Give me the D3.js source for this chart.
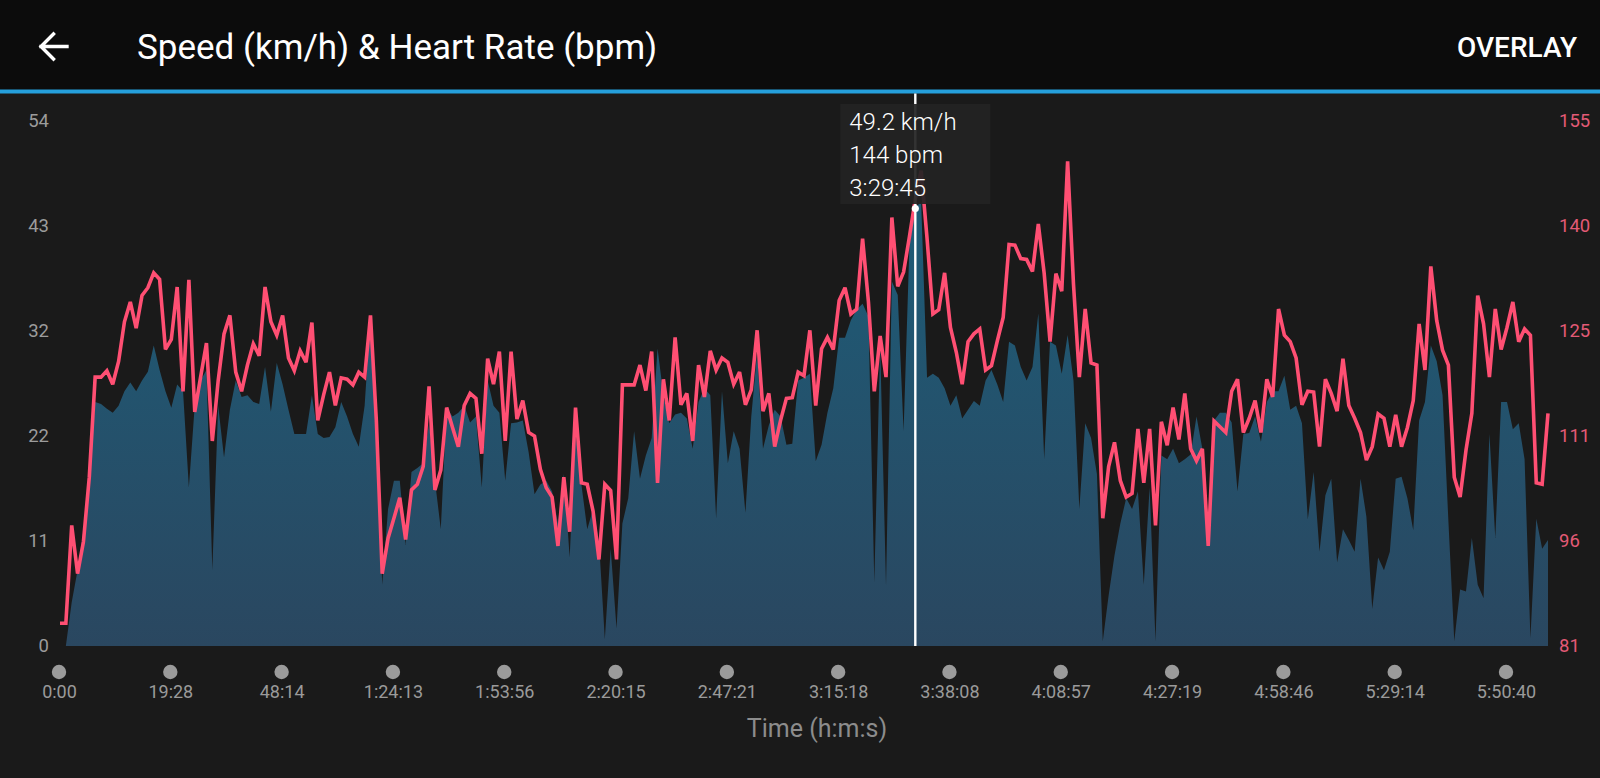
<!DOCTYPE html>
<html>
<head>
<meta charset="utf-8">
<script src="https://cdn.jsdelivr.net/npm/d3@7"></script>
<style>
  html, body { margin: 0; padding: 0; background: #1a1a1a; }
  svg { display: block; }
  text { font-family: Roboto, "Noto Sans", sans-serif; }
</style>
</head>
<body>
<svg id="chart" width="1600" height="778"></svg>
<script>
// ---------------- data ----------------
const heartRate = [
  84.2, 84.2, 98.0, 91.2, 95.7, 104.8, 118.9, 118.9, 119.8, 117.9, 121.1, 126.7, 129.5, 125.8, 130.4, 131.5, 133.6, 132.7, 122.8, 124.2,
  131.6, 116.9, 132.6, 114.0, 118.9, 123.7, 109.9, 118.4, 125.0, 127.6, 119.6, 116.9, 120.6, 123.6, 121.9, 131.6, 126.7, 124.8, 127.6, 121.6,
  119.8, 122.6, 121.0, 126.6, 112.8, 116.4, 119.6, 114.9, 118.8, 118.6, 117.8, 119.6, 118.9, 127.6, 112.8, 91.2, 96.2, 99.0, 101.9, 96.0,
  103.0, 103.8, 106.3, 117.6, 103.0,
  105.8, 114.6, 111.8, 109.1, 114.9, 116.6, 115.9, 108.1, 121.5, 117.9, 122.5, 109.9, 122.5, 113.0, 115.6, 111.1, 110.6, 105.9, 103.3, 102.0,
  95.1, 104.8, 97.1, 114.6, 104.0, 103.8, 100.0, 93.2, 103.8, 102.9, 93.2, 117.8, 117.8, 117.8, 120.6, 117.0, 122.5, 104.0, 118.6, 112.8,
  124.5, 115.0, 116.6, 109.9, 120.6, 116.1, 122.6, 119.9, 121.6, 121.0, 117.9, 119.6, 115.0, 117.1, 125.5, 114.1, 116.6, 109.1, 112.8, 115.9,
  116.0, 119.6, 119.1, 125.5,
  114.9, 122.9, 124.5, 122.8, 129.7, 131.5, 127.8, 128.5, 138.4, 129.5, 116.9, 124.7, 118.9, 141.4, 131.7, 133.7, 138.7, 144.0, 148.0, 138.5,
  127.8, 128.4, 133.6, 125.9, 122.4, 117.9, 123.9, 125.0, 125.7, 119.9, 120.5, 124.0, 127.3, 137.6, 137.5, 135.6, 135.5, 133.8, 140.5, 133.5,
  123.9, 133.5, 131.0, 149.3, 132.0, 118.9, 128.5, 120.9, 120.6, 99.0, 106.3, 109.7, 104.3, 102.0, 102.5, 111.6, 104.0, 111.6, 98.0, 112.6,
  109.3, 114.6, 110.1, 116.6,
  108.8, 107.1, 108.8, 95.1, 112.7, 111.9, 111.1, 116.9, 118.6, 111.1, 113.1, 115.6, 111.1, 118.6, 116.1, 128.5, 124.8, 123.9, 121.6, 115.0,
  116.9, 116.8, 109.1, 118.6, 116.6, 114.1, 121.5, 114.9, 113.1, 111.1, 107.2, 109.1, 113.7, 113.1, 109.1, 113.6, 109.1, 111.8, 115.6, 126.4,
  119.9, 134.5, 126.9, 122.7, 120.6, 104.8, 102.0, 108.6, 113.8, 130.4, 126.4, 118.9, 128.5, 122.8, 125.9, 129.5, 123.9, 125.7, 124.8, 104.0,
  103.8, 113.8
];

const speed = [
  0, 0, 4.5, 7.8, 11.9, 17.0, 25.1, 24.9, 24.4, 24.0, 24.7, 26.2, 27.1, 26.2, 27.3, 28.2, 30.9, 28.4, 26.2, 24.5,
  26.9, 26.2, 16.3, 24.7, 27.3, 28.4, 7.8, 24.7, 19.4, 24.3, 27.3, 25.6, 25.8, 25.1, 24.9, 28.7, 24.1, 29.1, 26.9, 24.3,
  21.8, 21.8, 21.8, 25.8, 21.8, 21.4, 21.5, 22.5, 25.1, 23.6, 21.8, 20.5, 24.7, 33.9, 23.2, 6.3, 14.1, 17.0, 17.0, 10.4,
  17.9, 18.3, 18.8, 22.9, 17.0,
  12.0, 24.5, 23.6, 24.0, 24.7, 23.0, 23.6, 16.3, 27.3, 24.7, 24.0, 17.0, 22.9, 23.0, 23.2, 19.9, 15.6, 16.6, 17.0, 15.9,
  12.6, 17.7, 9.1, 22.1, 16.6, 12.0, 14.1, 10.8, 0.7, 10.0, 1.8, 12.6, 15.2, 22.1, 17.2, 19.6, 21.4, 30.6, 25.8, 22.9,
  23.8, 24.0, 23.4, 20.3, 25.1, 26.5, 25.8, 13.1, 26.2, 18.8, 22.1, 20.3, 13.7, 23.6, 30.2, 20.3, 22.7, 24.3, 23.6, 20.7,
  20.8, 27.3, 27.6, 28.0,
  19.0, 20.7, 24.0, 26.5, 31.7, 31.7, 33.5, 34.6, 35.2, 33.9, 6.5, 30.9, 6.2, 37.5, 36.1, 22.1, 41.2, 45.2, 45.6, 27.6,
  28.0, 27.6, 26.5, 24.7, 25.8, 23.4, 24.3, 25.2, 24.7, 27.3, 28.4, 26.9, 25.1, 31.3, 30.9, 28.7, 27.3, 28.7, 34.2, 19.2,
  31.3, 30.9, 28.0, 32.0, 27.3, 14.1, 22.9, 21.4, 17.7, 0.5, 5.2, 9.3, 12.6, 15.2, 14.1, 15.9, 6.3, 16.3, 0.5, 19.6,
  19.2, 20.3, 18.8, 19.2,
  19.7, 23.6, 20.3, 11.1, 23.2, 24.0, 24.0, 23.0, 15.9, 21.8, 21.9, 23.6, 21.0, 25.1, 26.2, 26.2, 27.8, 24.3, 24.7, 22.9,
  13.0, 17.9, 9.7, 15.5, 17.2, 8.6, 12.0, 10.9, 9.7, 17.2, 13.3, 3.8, 9.1, 7.8, 9.7, 17.2, 17.4, 15.2, 11.9, 23.2,
  25.1, 30.9, 29.3, 25.8, 12.8, 0.5, 5.8, 5.6, 11.1, 6.3, 4.9, 21.8, 11.1, 25.1, 25.1, 22.3, 22.9, 19.2, 0.8, 13.1,
  10.0, 10.9
];

const timeLabels = ["0:00", "19:28", "48:14", "1:24:13", "1:53:56", "2:20:15", "2:47:21",
  "3:15:18", "3:38:08", "4:08:57", "4:27:19", "4:58:46", "5:29:14", "5:50:40"];

const speedDomain = [0, 54];
const hrDomain = [81, 155];
const tickCount = 6;

const title = "Speed (km/h) & Heart Rate (bpm)";
const actionLabel = "OVERLAY";
const xAxisTitle = "Time (h:m:s)";

const tooltipIndex = 146;
const tooltipLines = ["49.2 km/h", "144 bpm", "3:29:45"];

// ---------------- layout ----------------
const W = 1600, H = 778;
const plotLeft = 60, plotRight = 1548, plotTop = 121, plotBottom = 646;

const svg = d3.select("#chart");

// background
svg.append("rect").attr("width", W).attr("height", H).attr("fill", "#1a1a1a");

// header
svg.append("rect").attr("x", 0).attr("y", 0).attr("width", W).attr("height", 90).attr("fill", "#0c0c0c");
svg.append("rect").attr("x", 0).attr("y", 89.5).attr("width", W).attr("height", 4).attr("fill", "#259fdc");

svg.append("path")
  .attr("d", "M67,46.5 L41,46.5 M53.5,34 L41,46.5 L53.5,59")
  .attr("fill", "none").attr("stroke", "#ffffff").attr("stroke-width", 3.4)
  .attr("stroke-linecap", "square").attr("stroke-linejoin", "miter");

svg.append("text").attr("x", 137).attr("y", 59)
  .attr("fill", "#ffffff").attr("font-size", 35).text(title);

svg.append("text").attr("x", 1577).attr("y", 57)
  .attr("text-anchor", "end").attr("fill", "#ffffff")
  .attr("font-size", 28).attr("font-weight", 500).text(actionLabel);

// scales
const x = d3.scaleLinear().domain([0, speed.length - 1]).range([plotLeft, plotRight]);
const yS = d3.scaleLinear().domain(speedDomain).range([plotBottom, plotTop]);
const yH = d3.scaleLinear().domain(hrDomain).range([plotBottom, plotTop]);
const xTick = d3.scalePoint().domain(timeLabels).range([59, 1506]);

// gradient
const defs = svg.append("defs");
const grad = defs.append("linearGradient").attr("id", "spdGrad")
  .attr("gradientUnits", "userSpaceOnUse")
  .attr("x1", 0).attr("x2", 0).attr("y1", plotTop).attr("y2", plotBottom);
grad.append("stop").attr("offset", "0%").attr("stop-color", "#1b607c");
grad.append("stop").attr("offset", "100%").attr("stop-color", "#2a4760");

// speed area
const area = d3.area()
  .x((d, i) => x(i))
  .y0(plotBottom)
  .y1(d => yS(d));
svg.append("path").datum(speed).attr("d", area).attr("fill", "url(#spdGrad)");

// heart rate line
const line = d3.line().x((d, i) => x(i)).y(d => yH(d));
svg.append("path").datum(heartRate).attr("d", line)
  .attr("fill", "none").attr("stroke", "#ff4f73").attr("stroke-width", 3.6)
  .attr("stroke-linejoin", "miter").attr("stroke-miterlimit", 3);

// cursor line
const cx = x(tooltipIndex);
svg.append("line").attr("x1", cx).attr("x2", cx).attr("y1", 93.5).attr("y2", plotBottom)
  .attr("stroke", "#ffffff").attr("stroke-width", 2.4);
svg.append("circle").attr("cx", cx).attr("cy", yS(speed[tooltipIndex]) + 2).attr("r", 3.6)
  .attr("fill", "#ffffff");

// tooltip
svg.append("rect").attr("x", cx - 75).attr("y", 104).attr("width", 150).attr("height", 100)
  .attr("fill", "#232323").attr("fill-opacity", 0.93);
const tipText = svg.append("g");
tooltipLines.forEach((t, i) => {
  tipText.append("text").attr("x", cx - 66).attr("y", 130 + i * 33)
    .attr("fill", "#ffffff").attr("font-size", 24).attr("font-weight", 300).text(t);
});

// axes
const speedTicks = d3.range(tickCount).map(i => speedDomain[0] + (speedDomain[1] - speedDomain[0]) * i / (tickCount - 1));
const hrTicks = d3.range(tickCount).map(i => hrDomain[0] + (hrDomain[1] - hrDomain[0]) * i / (tickCount - 1));

const gL = svg.append("g").attr("transform", "translate(49,0)")
  .call(d3.axisLeft(yS).tickValues(speedTicks).tickFormat(d3.format(".0f")).tickSize(0).tickPadding(0));
gL.select(".domain").remove();
gL.selectAll("text").attr("fill", "#9c9c9c").attr("font-size", 18.5).attr("font-family", "Roboto");

const gR = svg.append("g").attr("transform", "translate(1559,0)")
  .call(d3.axisRight(yH).tickValues(hrTicks).tickFormat(d3.format(".0f")).tickSize(0).tickPadding(0));
gR.select(".domain").remove();
gR.selectAll("text").attr("fill", "#e35a76").attr("font-size", 18.5).attr("font-family", "Roboto");

const gB = svg.append("g").attr("transform", "translate(0,698)")
  .call(d3.axisBottom(xTick).tickSize(0).tickPadding(0));
gB.select(".domain").remove();
gB.selectAll("text").attr("y", 0).attr("dy", 0)
  .attr("fill", "#9a9a9a").attr("font-size", 18).attr("font-family", "Roboto");

svg.append("g").selectAll("circle").data(timeLabels).join("circle")
  .attr("cx", d => xTick(d)).attr("cy", 672).attr("r", 7.2).attr("fill", "#9b9b9b");

svg.append("text").attr("x", 817).attr("y", 737).attr("text-anchor", "middle")
  .attr("fill", "#8c8c8c").attr("font-size", 25).text(xAxisTitle);
</script>
</body>
</html>
